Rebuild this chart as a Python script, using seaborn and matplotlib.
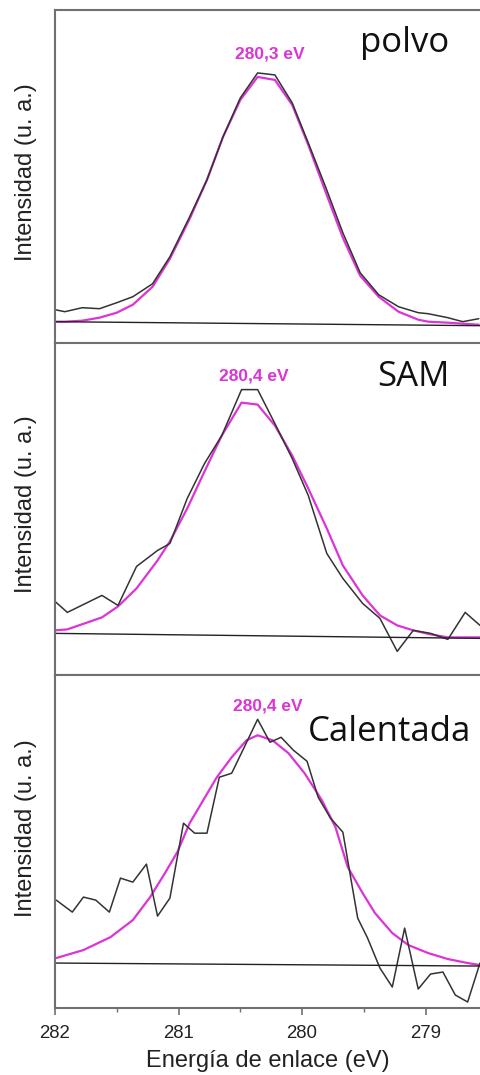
import numpy as np
import pandas as pd
import matplotlib
matplotlib.use("Agg")
import matplotlib.pyplot as plt
import seaborn as sns
from matplotlib.ticker import MultipleLocator

sns.set_theme(style="white")
plt.rcParams['font.family'] = ['Liberation Sans', 'DejaVu Sans']

# ---------------- data ----------------
panel_names = ["polvo", "SAM", "Calentada"]
peak_labels = ["280,3 eV", "280,4 eV", "280,4 eV"]

polvo_E = [282.00, 281.92, 281.78, 281.64, 281.50, 281.37, 281.21, 281.07, 280.91,
           280.77, 280.64, 280.50, 280.36, 280.22, 280.08, 279.95, 279.81, 279.67,
           279.53, 279.38, 279.22, 279.06, 278.98, 278.82, 278.70, 278.57]
polvo_I = [33, 31, 35, 34, 40, 46, 59, 86, 126, 163, 206, 245, 270, 268, 240, 200,
           156, 110, 70, 48, 36, 30, 29, 25, 21, 24]
polvo_fit = [21, 21, 22, 25, 30, 38, 56, 84, 124, 163, 206, 243, 266, 263, 238, 198,
             151, 105, 67, 46, 31, 23, 21, 20, 19, 18]
polvo_bg = [21, 17]

sam_E = [282.00, 281.90, 281.62, 281.49, 281.34, 281.17, 281.07, 280.93, 280.79,
         280.65, 280.49, 280.36, 280.22, 280.08, 279.95, 279.80, 279.67, 279.51,
         279.37, 279.23, 279.10, 278.96, 278.82, 278.68, 278.56]
sam_I = [74, 63, 80, 70, 109, 125, 132, 177, 212, 240, 286, 286, 252, 217, 180, 122,
         97, 72, 57, 24, 45, 42, 36, 63, 50]
sam_fit = [45, 46, 58, 69, 87, 115, 134, 167, 204, 240, 273, 271, 250, 220, 187, 147,
           110, 80, 60, 50, 45, 41, 38, 38, 38]
sam_bg = [42, 37]

cal_E = [281.99, 281.86, 281.77, 281.67, 281.56, 281.47, 281.37, 281.26, 281.17,
         281.07, 280.96, 280.87, 280.77, 280.67, 280.57, 280.48, 280.36, 280.26,
         280.17, 280.07, 279.96, 279.87, 279.77, 279.67, 279.55, 279.47, 279.37,
         279.27, 279.17, 279.06, 278.96, 278.86, 278.76, 278.66, 278.56]
cal_I = [108, 96, 111, 108, 96, 130, 126, 144, 92, 110, 185, 175, 175, 231, 235, 258,
         289, 266, 271, 258, 247, 211, 190, 176, 90, 70, 40, 21, 80, 19, 34, 36, 13,
         6, 45]
cal_fit_E = [281.99, 281.77, 281.55, 281.37, 281.23, 281.11, 281.01, 280.91, 280.80,
             280.69, 280.57, 280.45, 280.36, 280.24, 280.11, 279.98, 279.84, 279.73,
             279.63, 279.51, 279.41, 279.27, 279.14, 278.98, 278.82, 278.66, 278.56]
cal_fit = [50, 58, 71, 88, 111, 135, 156, 185, 208, 231, 251, 268, 273, 268, 255, 235,
           208, 181, 141, 115, 95, 75, 63, 55, 49, 45, 43]
cal_bg = [45, 42]

bg_E = [282.0, 278.56]
x_ticks = [282, 281, 280, 279]

# ---------------- figure ----------------
MAG = "#dc34d6"
DARK = "#333333"
SPINE = "#707070"

fig = plt.figure(figsize=(4.8, 10.75), dpi=100)
gs = fig.add_gridspec(3, 1, left=55/480, right=1.0, top=1 - 10/1075,
                      bottom=1 - 1008/1075, hspace=0)

panels = [
    (polvo_E, polvo_I, polvo_E, polvo_fit, polvo_bg),
    (sam_E, sam_I, sam_E, sam_fit, sam_bg),
    (cal_E, cal_I, cal_fit_E, cal_fit, cal_bg),
]
title_pos = [(279.53, 291), (279.39, 290), (279.95, 267)]
label_pos = [(280.26, 284), (280.39, 295), (280.28, 298)]
ylab_y = [0.514, 0.515, 0.54]

for i, (E, I, FE, FI, BG) in enumerate(panels):
    ax = fig.add_subplot(gs[i])
    sns.lineplot(x=FE, y=FI, color=MAG, lw=1.6, estimator=None, sort=False, ax=ax)
    sns.lineplot(x=E, y=I, color=DARK, lw=1.1, estimator=None, sort=False, ax=ax)
    sns.lineplot(x=bg_E, y=BG, color="#222222", lw=1.0, estimator=None, sort=False, ax=ax)
    ax.set_xlim(282, 278.56)
    ax.set_ylim(0, 333)
    ax.set_yticks([])
    for s in ["left", "top", "bottom"]:
        ax.spines[s].set_color(SPINE)
        ax.spines[s].set_linewidth(1.5)
    ax.spines["right"].set_visible(False)
    ax.set_ylabel("Intensidad (u. a.)", fontsize=17, color="#222222")
    ax.yaxis.set_label_coords(-0.043, ylab_y[i])
    ax.text(title_pos[i][0], title_pos[i][1], panel_names[i], fontsize=25,
            family=["Open Sans", "DejaVu Sans"], color="#111111",
            ha="left", va="baseline")
    ax.text(label_pos[i][0], label_pos[i][1], peak_labels[i], fontsize=12.5,
            fontweight="bold", color=MAG, ha="center", va="baseline")
    if i < 2:
        ax.tick_params(bottom=False, labelbottom=False)
        ax.set_xlabel("")
    else:
        ax.set_xticks(x_ticks)
        ax.xaxis.set_minor_locator(MultipleLocator(0.5))
        ax.tick_params(axis="x", which="major", bottom=True, direction="out",
                       length=5, width=1.2, color=SPINE, labelsize=13.4, pad=7,
                       labelcolor="#222222")
        ax.tick_params(axis="x", which="minor", bottom=True, direction="out",
                       length=3, width=1.0, color=SPINE)
        ax.set_xlabel("Energía de enlace (eV)", fontsize=17, color="#222222",
                      labelpad=6)

fig.savefig("out.png", dpi=100)
